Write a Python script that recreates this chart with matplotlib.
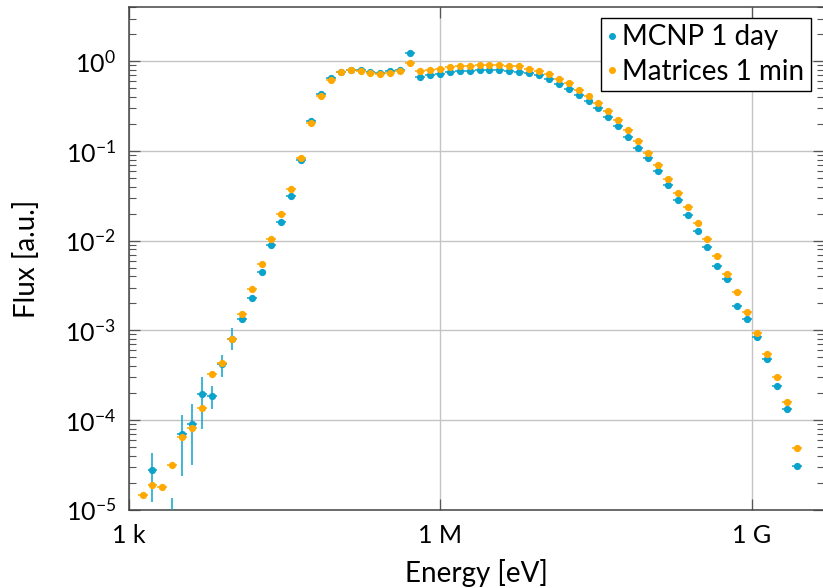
import numpy as np
import matplotlib
matplotlib.use("Agg")
import matplotlib.pyplot as plt
from matplotlib.lines import Line2D
from matplotlib.ticker import LogLocator, NullLocator, FixedLocator, FixedFormatter, NullFormatter

plt.rcParams['font.family'] = ['Lato', 'DejaVu Sans']
plt.rcParams['mathtext.fontset'] = 'custom'
plt.rcParams['mathtext.rm'] = 'Lato'
plt.rcParams['mathtext.it'] = 'Lato:italic'
plt.rcParams['mathtext.default'] = 'regular'

# Bin-centre energies [eV]
energy = [
    1367, 1702, 2121, 2642, 3291, 4099, 5105, 6359, 7920, 9863,
    12287, 15303, 19060, 23741, 29572, 36834, 45876, 57146, 71180, 88628,
    110420, 137530, 171290, 213360, 265760, 331130, 412400, 513690, 639880, 796940,
    992660, 1.2365e6, 1.5399e6, 1.9183e6, 2.3894e6, 2.9764e6, 3.7068e6, 4.6173e6, 5.7515e6, 7.1630e6,
    8.9224e6, 1.1114e7, 1.3841e7, 1.7241e7, 2.1478e7, 2.6753e7, 3.3320e7, 4.1504e7, 5.1700e7, 6.4389e7,
    8.0205e7, 9.9908e7, 1.2444e8, 1.5500e8, 1.9307e8, 2.4049e8, 2.9955e8, 3.7314e8, 4.6479e8, 5.7890e8,
    7.2111e8, 8.9823e8, 1.1184e9, 1.3932e9, 1.7355e9, 2.1612e9, 2.6921e9,
]

# Matrix method, 1 minute
flux_matrices = [
    1.46e-5, 1.89e-5, 1.79e-5, 3.18e-5, 6.4e-5, 8.1e-5, 1.36e-4, 3.3e-4, 4.3e-4, 8.0e-4,
    1.54e-3, 2.9e-3, 5.5e-3, 1.05e-2, 1.96e-2, 3.77e-2, 8.4e-2, 0.205, 0.411, 0.62,
    0.754, 0.794, 0.78, 0.742, 0.729, 0.748, 0.773, 0.96, 0.773, 0.79,
    0.829, 0.857, 0.88, 0.889, 0.902, 0.902, 0.902, 0.895, 0.88, 0.829,
    0.787, 0.723, 0.641, 0.568, 0.48, 0.411, 0.343, 0.277, 0.22, 0.17,
    0.130, 0.0957, 0.069, 0.049, 0.0343, 0.0235, 0.0157, 0.0105, 0.00678, 0.00427,
    0.00267, 0.00162, 0.000945, 5.42e-4, 3.0e-4, 1.59e-4, 4.92e-5,
]

# MCNP reference, 1 day
flux_mcnp = [
    np.nan, 2.77e-5, np.nan, 4.0e-6, 6.94e-5, 9.1e-5, 1.94e-4, 1.87e-4, 4.2e-4, 8.0e-4,
    1.33e-3, 2.29e-3, 4.47e-3, 8.9e-3, 1.62e-2, 3.17e-2, 8.0e-2, 0.214, 0.436, 0.646,
    0.767, 0.79, 0.79, 0.76, 0.748, 0.773, 0.80, 1.24, 0.675, 0.705,
    0.723, 0.754, 0.773, 0.787, 0.79, 0.80, 0.79, 0.78, 0.76, 0.735,
    0.698, 0.641, 0.564, 0.492, 0.422, 0.358, 0.299, 0.241, 0.19, 0.144,
    0.108, 0.0842, 0.0592, 0.0413, 0.0284, 0.0191, 0.0129, 0.0084, 0.00525, 0.00373,
    0.00189, 0.00134, 0.00084, 4.77e-4, 2.42e-4, 1.32e-4, 3.05e-5,
]

# MCNP statistical bounds in the sparse low-energy bins (index: (lower, upper))
mcnp_bounds = {
    1: (1.23e-5, 4.26e-5),
    3: (1.0e-6, 1.34e-5),
    4: (2.39e-5, 1.14e-4),
    5: (3.15e-5, 1.51e-4),
    6: (7.96e-5, 3.05e-4),
    7: (1.34e-4, 2.40e-4),
    8: (3.05e-4, 5.33e-4),
    9: (6.06e-4, 1.07e-3),
}
mcnp_rel_err = 0.04

labels = ["MCNP 1 day", "Matrices 1 min"]
colors = ["#0aa3cc", "#ffa800"]

x_ticks = [1e3, 1e6, 1e9]
x_ticklabels = ["1 k", "1 M", "1 G"]

E = np.array(energy, dtype=float)
fm = np.array(flux_matrices, dtype=float)
fc = np.array(flux_mcnp, dtype=float)

# bin edges: geometric midpoints between neighbouring centres
logE = np.log10(E)
half = np.diff(logE).mean() / 2
x_lo = E - 10 ** (logE - half)
x_hi = 10 ** (logE + half) - E

c_lo = fc * mcnp_rel_err
c_hi = fc * mcnp_rel_err
for i, (lo, hi) in mcnp_bounds.items():
    c_lo[i] = fc[i] - lo
    c_hi[i] = hi - fc[i]
c_lo = np.nan_to_num(c_lo)
c_hi = np.nan_to_num(c_hi)

W, H = 823, 588
fig = plt.figure(figsize=(W / 100, H / 100), dpi=100)
ax_left, ax_right, ax_bottom, ax_top = 128.5, 824.0, 509.7, 7.3
ax = fig.add_axes([ax_left / W, 1 - ax_bottom / H,
                   (ax_right - ax_left) / W, (ax_bottom - ax_top) / H])

ax.set_xscale('log')
ax.set_yscale('log')
ax.set_xlim(1e3, 10 ** (3 + (ax_right - ax_left) / 103.9))
ax.set_ylim(1e-5, 4.0)

ax.errorbar(E, fc, xerr=[x_lo, x_hi], yerr=[c_lo, c_hi], fmt='o', ms=5.2,
            color=colors[0], ecolor=colors[0], elinewidth=1.1, capsize=0,
            mew=0, zorder=3)
ax.errorbar(E, fm, xerr=[x_lo, x_hi], fmt='o', ms=5.2,
            color=colors[1], ecolor=colors[1], elinewidth=1.1, capsize=0,
            mew=0, zorder=4)

ax.xaxis.set_major_locator(FixedLocator(x_ticks))
ax.xaxis.set_major_formatter(FixedFormatter(x_ticklabels))
ax.xaxis.set_minor_locator(NullLocator())
ax.yaxis.set_major_locator(LogLocator(base=10, numticks=20))
ax.yaxis.set_minor_locator(LogLocator(base=10, subs=np.arange(2, 10), numticks=20))
ax.yaxis.set_minor_formatter(NullFormatter())

ax.grid(True, which='major', color='#c4c4c4', lw=1.0)
ax.set_axisbelow(True)
ax.tick_params(which='both', direction='in', top=True, right=True,
               labelsize=18, color='#555555')
ax.tick_params(which='major', length=7.7, width=0.9)
ax.tick_params(axis='x', which='major', pad=10)
ax.tick_params(axis='y', which='major', pad=9)
ax.tick_params(which='minor', length=5.3, width=0.8)
for s in ax.spines.values():
    s.set_color('#444444')
    s.set_linewidth(1.1)

ax.set_xlabel("Energy [eV]", fontsize=20, labelpad=9)
ax.set_ylabel("Flux [a.u.]", fontsize=20, labelpad=18)

handles = [Line2D([], [], marker='o', ms=4, ls='none', color=c) for c in colors]
leg = ax.legend(handles, labels, loc='upper right',
                bbox_to_anchor=(810.7 / W, 1 - 18.3 / H),
                bbox_transform=fig.transFigure, borderaxespad=0,
                fontsize=20, handlelength=0.35, handletextpad=0.2,
                borderpad=0.22, labelspacing=0.3, fancybox=False,
                framealpha=1, edgecolor='black')
leg.get_frame().set_linewidth(1.0)

fig.savefig("out.png", dpi=100)
